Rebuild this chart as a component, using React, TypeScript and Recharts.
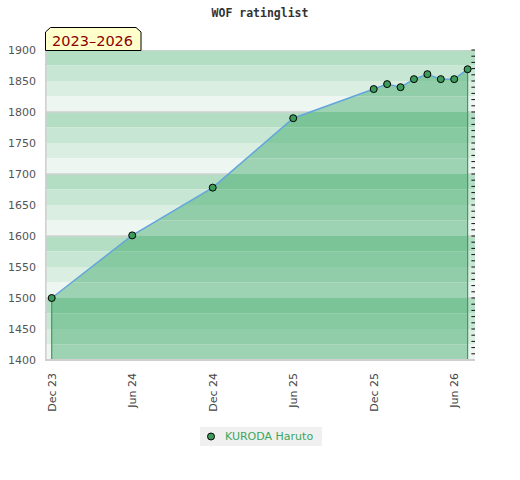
import React from 'react';
import { ComposedChart, Area, Line, XAxis, YAxis, ReferenceArea, ReferenceLine } from 'recharts';

const months = [0, 6, 12, 18, 24, 25, 26, 27, 28, 29, 30, 31];
const ratings = [1500, 1601, 1678, 1790, 1837, 1845, 1840, 1853, 1861, 1853, 1853, 1869];
const xTickMonths = [0, 6, 12, 18, 24, 30];
const xTickLabels = ['Dec 23', 'Jun 24', 'Dec 24', 'Jun 25', 'Dec 25', 'Jun 26'];
const yTicks = [1400, 1450, 1500, 1550, 1600, 1650, 1700, 1750, 1800, 1850, 1900];
const gridValues = [1400, 1500, 1600, 1700, 1800, 1900];
const bandColors = ['#b3dec4', '#c7e6d3', '#dbeee2', '#eef6f1'];
const areaBandColors = ['#7bc498', '#87c9a0', '#92cda9', '#9dd2b2'];
const title = 'WOF ratinglist';
const periodLabel = '2023–2026';
const seriesName = 'KURODA Haruto';

const Y_MIN = 1400;
const Y_MAX = 1900;
const X_MIN = -0.5;
const X_MAX = 31.55;
const MINOR_TICK_LEN = 0.27; // months
const GRID_HALF = 1.2; // rating units

const W = 520;
const H = 480;
const MARGIN = { top: 50, right: 0, bottom: 60, left: 0 };
const X_AXIS_H = 60;
const PLOT_TOP = MARGIN.top;
const PLOT_H = H - MARGIN.top - MARGIN.bottom - X_AXIS_H;
const PX_PER_UNIT = PLOT_H / (Y_MAX - Y_MIN);
const BLOCK_PX = 100 * PX_PER_UNIT;

const data = months.map((m, i) => ({ m, r: ratings[i] }));

const bands: { y1: number; y2: number; fill: string }[] = [];
for (let top = Y_MAX; top > Y_MIN; top -= 100) {
  for (let k = 0; k < 4; k++) {
    bands.push({ y2: top - 25 * k, y1: top - 25 * (k + 1), fill: bandColors[k] });
  }
}
const minorTicks: number[] = [];
for (let v = Y_MIN; v <= Y_MAX; v += 10) minorTicks.push(v);

const FONT = '"DejaVu Sans", Verdana, sans-serif';

const XTick = (props: any) => {
  const { x, y, payload } = props;
  const idx = xTickMonths.indexOf(payload.value);
  const label = idx >= 0 ? xTickLabels[idx] : String(payload.value);
  return (
    <text
      x={x}
      y={y + 13}
      transform={`rotate(-90, ${x}, ${y + 13})`}
      textAnchor="end"
      dy="0.35em"
      fontSize={11}
      fontFamily={FONT}
      fill="#444"
    >
      {label}
    </text>
  );
};

export default function App() {
  const first = data[0];
  const last = data[data.length - 1];
  return (
    <div style={{ position: 'absolute', left: 0, top: 0, width: W, height: H, background: '#fff' }}>
      <svg width={0} height={0} style={{ position: 'absolute', left: 0, top: 0 }}>
        <defs>
          <pattern
            id="areaBands"
            patternUnits="userSpaceOnUse"
            x={0}
            y={PLOT_TOP}
            width={W}
            height={BLOCK_PX}
          >
            {areaBandColors.map((c, k) => (
              <rect
                key={c}
                x={0}
                y={(k * BLOCK_PX) / 4}
                width={W}
                height={BLOCK_PX / 4 + 0.05}
                fill={c}
              />
            ))}
          </pattern>
        </defs>
      </svg>
      <ComposedChart width={W} height={H} data={data} margin={MARGIN}>
        {bands.map((b, i) => (
          <ReferenceArea
            key={`band-${i}`}
            yAxisId="left"
            y1={b.y1}
            y2={b.y2}
            fill={b.fill}
            fillOpacity={1}
            stroke="none"
            ifOverflow="extendDomain"
          />
        ))}
        {gridValues.map((v) => (
          <ReferenceArea
            key={`grid-${v}`}
            yAxisId="left"
            y1={Math.max(v - GRID_HALF, Y_MIN)}
            y2={Math.min(v + GRID_HALF, Y_MAX)}
            fill="#d0d0d0"
            fillOpacity={1}
            stroke="none"
            ifOverflow="visible"
          />
        ))}
        <ReferenceArea
          yAxisId="left"
          x1={X_MIN}
          x2={X_MIN + 0.12}
          y1={Y_MIN}
          y2={Y_MAX}
          fill="#d0d0d0"
          fillOpacity={1}
          stroke="none"
          ifOverflow="visible"
        />
        <Area
          yAxisId="left"
          dataKey="r"
          type="linear"
          baseValue={Y_MIN}
          fill="url(#areaBands)"
          fillOpacity={1}
          stroke="none"
          isAnimationActive={false}
          dot={false}
          activeDot={false}
        />
        {minorTicks.map((v) => (
          <ReferenceLine
            key={`mt-${v}`}
            yAxisId="left"
            segment={[{ x: X_MAX - MINOR_TICK_LEN, y: v }, { x: X_MAX, y: v }]}
            stroke="#111"
            strokeWidth={1}
            ifOverflow="visible"
          />
        ))}
        <ReferenceLine
          yAxisId="left"
          segment={[{ x: first.m, y: Y_MIN }, { x: first.m, y: first.r }]}
          stroke="#3d9c5c"
          strokeWidth={1.2}
        />
        <ReferenceLine
          yAxisId="left"
          segment={[{ x: last.m, y: Y_MIN }, { x: last.m, y: last.r }]}
          stroke="#3d9c5c"
          strokeWidth={1.2}
        />
        <Line
          yAxisId="left"
          dataKey="r"
          type="linear"
          stroke="#62a6dc"
          strokeWidth={1.5}
          isAnimationActive={false}
          dot={{ r: 3.5, fill: '#3d9c5c', stroke: '#000', strokeWidth: 1, fillOpacity: 1 }}
          activeDot={false}
        />
        <XAxis
          dataKey="m"
          type="number"
          domain={[X_MIN, X_MAX]}
          ticks={xTickMonths}
          interval={0}
          allowDataOverflow
          height={X_AXIS_H}
          tickSize={0}
          tickMargin={0}
          tick={<XTick />}
          axisLine={{ stroke: '#cfcfcf', strokeWidth: 2 }}
        />
        <YAxis
          yAxisId="left"
          orientation="left"
          type="number"
          domain={[Y_MIN, Y_MAX]}
          ticks={yTicks}
          interval={0}
          width={45}
          tickSize={0}
          tickMargin={9}
          tickLine={false}
          axisLine={false}
          tick={{ fontSize: 11, fontFamily: FONT, fill: '#555' }}
        />
        <YAxis
          yAxisId="right"
          orientation="right"
          type="number"
          domain={[Y_MIN, Y_MAX]}
          ticks={yTicks}
          interval={0}
          width={45}
          tickSize={0}
          tickMargin={8}
          tickLine={false}
          axisLine={false}
          tick={{ fontSize: 11, fontFamily: FONT, fill: '#222', textAnchor: 'start' }}
        />
      </ComposedChart>
      <svg
        width={W}
        height={H}
        style={{ position: 'absolute', left: 0, top: 0, pointerEvents: 'none' }}
      >
        <text
          x={260}
          y={17}
          textAnchor="middle"
          fontSize={11.5}
          fontWeight="bold"
          fontFamily='"DejaVu Sans Mono", monospace'
          fill="#333"
        >
          {title}
        </text>
        <polygon
          points="45.5,50.5 45.5,32 50.5,27.5 136,27.5 141,32 141,50.5"
          fill="#ffffcc"
          stroke="#000"
          strokeWidth={1}
        />
        <text x={52} y={46} fontSize={14.5} fontFamily={FONT} fill="#8b0000">
          {periodLabel}
        </text>
      </svg>
      <div
        style={{
          position: 'absolute',
          left: 200,
          top: 427,
          width: 122,
          height: 19,
          background: '#f0f0f0',
          fontFamily: FONT,
          fontSize: 11,
          color: '#3aa65e',
          display: 'flex',
          alignItems: 'center',
          boxSizing: 'border-box',
        }}
      >
        <svg width={22} height={19} style={{ flex: 'none' }}>
          <circle cx={11} cy={9.5} r={3.5} fill="#3d9c5c" stroke="#000" strokeWidth={1} />
        </svg>
        <span style={{ marginLeft: 3, whiteSpace: 'nowrap' }}>{seriesName}</span>
      </div>
    </div>
  );
}
